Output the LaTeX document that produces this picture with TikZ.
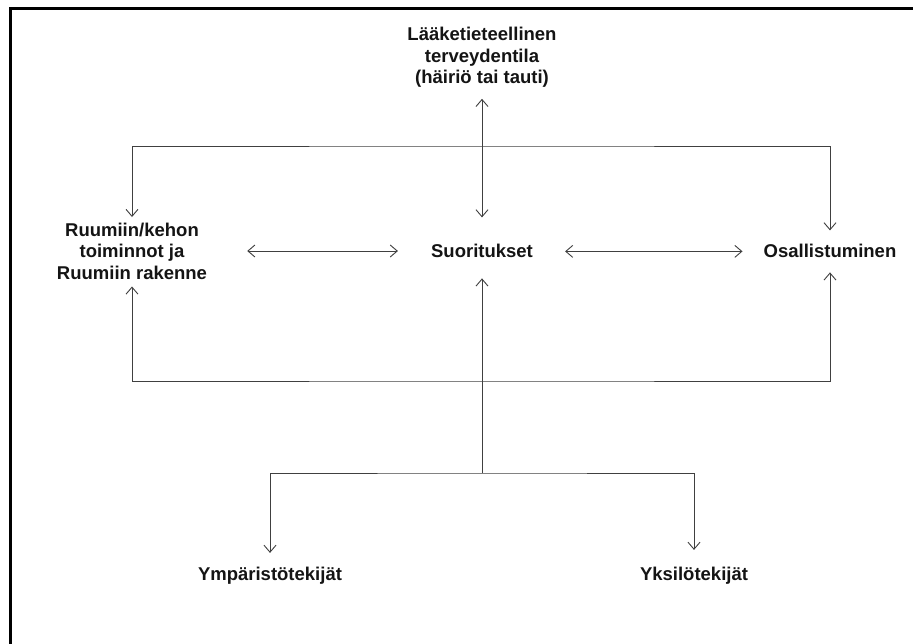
\documentclass[tikz,border=0pt]{standalone}
\usepackage{fontspec}
\setmainfont{Liberation Sans}
\usetikzlibrary{arrows.meta}
\begin{document}
\begin{tikzpicture}[x=1pt,y=-1pt,
  lbl/.style={font=\bfseries\fontsize{18.5}{21.5}\selectfont, inner sep=0pt, align=center, text=black!92},
  conn/.style={draw=black!75, line width=0.9pt},
  barb/.tip={Straight Barb[length=7pt,width=12pt]},
  tip/.style={conn, -barb},
  both/.style={conn, barb-barb},
]
% page and frame
\fill[white] (0,0) rectangle (913,644);
\useasboundingbox (0,0) rectangle (913,644);
\draw[line width=3pt] (10,644) -- (10,9) -- (913,9);

% labels
\node[lbl] (health) at (482,57.5) {Lääketieteellinen\\terveydentila\\(häiriö tai tauti)};
\node[lbl] (body) at (132,251) {Ruumiin/kehon\\toiminnot ja\\Ruumiin rakenne};
\node[lbl, anchor=base] (act) at (482,258) {Suoritukset};
\node[lbl, anchor=base] (part) at (830,258) {Osallistuminen};
\node[lbl, anchor=base] (env) at (270,580.5) {Ympäristötekijät};
\node[lbl, anchor=base] (pers) at (694,580.5) {Yksilötekijät};

% junction points of the brackets
\coordinate (topbar) at (482,146);
\coordinate (botbar) at (482,381);
\coordinate (fork) at (482,473);

% connectors
\draw[both, shorten <=11pt, shorten >=27pt] (health.south) -- (health.south |- act.north);
\draw[both, shorten <=5.5pt, shorten >=14pt] (body.north) |- (topbar) -| (part.north);
\draw[both, shorten <=7pt, shorten >=14pt] (body.south) |- (botbar) -| (part.south);
\draw[both, shorten <=40pt, shorten >=33pt] (body.east) -- (body.east -| act.west);
\draw[both, shorten <=32pt, shorten >=21pt] (act.east) -- (act.east -| part.west);
\draw[tip, shorten >=20pt] (fork) -- (fork |- act.south);
\draw[both, shorten <=14pt, shorten >=17pt] (env.north) |- (fork) -| (pers.north);
\end{tikzpicture}
\end{document}
